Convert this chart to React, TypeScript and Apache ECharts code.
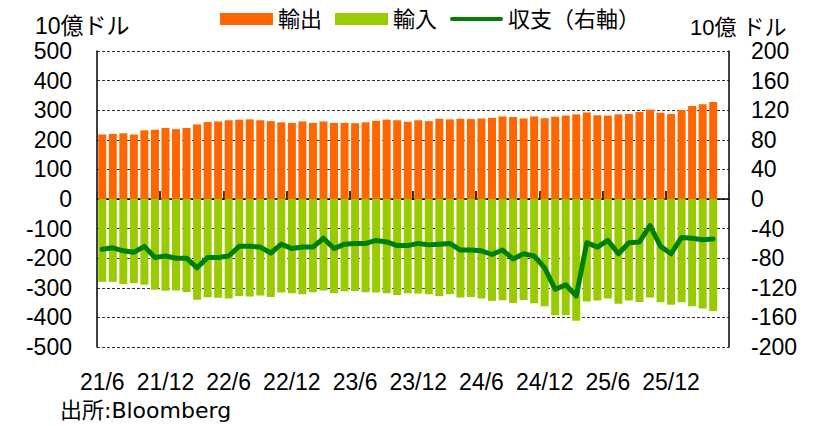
import React, { useEffect, useRef } from "react";
import * as echarts from "echarts";

const months: string[] = [
  "21/6", "21/7", "21/8", "21/9", "21/10", "21/11", "21/12",
  "22/1", "22/2", "22/3", "22/4", "22/5", "22/6", "22/7", "22/8", "22/9", "22/10", "22/11", "22/12",
  "23/1", "23/2", "23/3", "23/4", "23/5", "23/6", "23/7", "23/8", "23/9", "23/10", "23/11", "23/12",
  "24/1", "24/2", "24/3", "24/4", "24/5", "24/6", "24/7", "24/8", "24/9", "24/10", "24/11", "24/12",
  "25/1", "25/2", "25/3", "25/4", "25/5", "25/6", "25/7", "25/8", "25/9", "25/10", "25/11", "25/12",
  "26/1", "26/2", "26/3", "26/4", "26/5",
];

// 輸出 (10億ドル, left axis)
const exportsData: number[] = [
  218, 220, 222, 218, 232, 234, 240, 236, 240, 252,
  260, 262, 266, 268, 269, 266, 263, 259, 257, 262,
  257, 262, 257, 257, 256, 259, 264, 268, 266, 261,
  266, 263, 271, 269, 271, 270, 272, 274, 279, 277,
  272, 279, 273, 278, 282, 286, 292, 283, 282, 286,
  287, 294, 302, 291, 287, 301, 314, 320, 328,
];

// 輸入 (10億ドル, left axis, negative)
const importsData: number[] = [
  -280, -280, -287, -284, -290, -307, -310, -309, -314, -340,
  -332, -334, -336, -328, -329, -326, -331, -316, -318, -322,
  -315, -309, -318, -312, -311, -315, -316, -318, -324, -318,
  -319, -322, -328, -322, -333, -331, -336, -344, -342, -351,
  -341, -352, -362, -393, -393, -411, -346, -343, -336, -354,
  -343, -348, -333, -349, -357, -349, -362, -370, -378,
];

// 収支 (10億ドル, right axis)
const balanceData: number[] = [
  -68, -66, -70, -72, -64, -79, -77, -80, -80, -93,
  -79, -79, -77, -64, -64, -65, -73, -61, -67, -65,
  -65, -53, -67, -61, -60, -60, -56, -58, -63, -63,
  -60, -62, -61, -60, -69, -69, -70, -75, -69, -81,
  -74, -77, -93, -122, -116, -131, -59, -65, -56, -74,
  -59, -58, -36, -64, -74, -52, -53, -55, -54,
];

const NUM_FONT = "'Liberation Sans', Arial, sans-serif";
const JP_FONT = "'Liberation Sans', 'Noto Sans CJK JP', sans-serif";
const SRC_FONT = "'DejaVu Sans', 'Noto Sans CJK JP', sans-serif";

export default function App() {
  const ref = useRef<HTMLDivElement>(null);

  useEffect(() => {
    if (!ref.current) return;
    const chart = echarts.init(ref.current, null, { renderer: "svg" });
    chart.setOption({
      animation: false,
      backgroundColor: "#ffffff",
      legend: {
        left: 215,
        top: 3,
        itemWidth: 53,
        itemHeight: 12,
        itemGap: 13,
        textStyle: { fontSize: 22, color: "#000", fontFamily: JP_FONT },
        data: [
          { name: "輸出", icon: "rect" },
          { name: "輸入", icon: "rect" },
          {
            name: "収支（右軸）",
            icon: "path://M2,0L54,0A2,2,0,0,1,54,4L2,4A2,2,0,0,1,2,0Z",
            itemStyle: { color: "#008000" },
          },
        ],
      },
      grid: { left: 97, right: 90, top: 51, bottom: 79 },
      xAxis: [
        {
          type: "category",
          data: months,
          boundaryGap: true,
          axisLine: {
            show: true,
            onZero: true,
            onZeroAxisIndex: 0,
            lineStyle: { color: "#000", width: 1.5 },
          },
          axisTick: {
            show: true,
            interval: 5,
            inside: true,
            length: 8,
            lineStyle: { color: "#333", width: 2 },
          },
          axisLabel: { show: false },
          splitLine: { show: false },
        },
        {
          type: "category",
          data: months,
          position: "bottom",
          boundaryGap: true,
          axisLine: { show: false, onZero: false },
          axisTick: { show: false },
          axisLabel: {
            interval: 5,
            margin: 23,
            fontSize: 23,
            color: "#000",
            fontFamily: NUM_FONT,
          },
          splitLine: { show: false },
        },
      ],
      yAxis: [
        {
          type: "value",
          min: -500,
          max: 500,
          interval: 100,
          position: "left",
          axisLine: { show: true, lineStyle: { color: "#000", width: 1.5 } },
          axisTick: { show: false },
          axisLabel: { margin: 25, fontSize: 23, color: "#000", fontFamily: NUM_FONT },
          splitLine: {
            show: true,
            lineStyle: { color: "#333", width: 1, type: [3, 2] },
          },
        },
        {
          type: "value",
          min: -200,
          max: 200,
          interval: 40,
          position: "right",
          axisLine: { show: true, lineStyle: { color: "#000", width: 1.5 } },
          axisTick: { show: false },
          axisLabel: { margin: 22, fontSize: 23, color: "#000", fontFamily: NUM_FONT },
          splitLine: { show: false },
        },
      ],
      series: [
        {
          name: "輸出",
          type: "bar",
          xAxisIndex: 0,
          yAxisIndex: 0,
          data: exportsData,
          barWidth: 8,
          barGap: "-100%",
          itemStyle: { color: "#FF6600" },
        },
        {
          name: "輸入",
          type: "bar",
          xAxisIndex: 0,
          yAxisIndex: 0,
          data: importsData,
          barWidth: 8,
          barGap: "-100%",
          itemStyle: { color: "#99CC00" },
        },
        {
          name: "収支（右軸）",
          type: "line",
          xAxisIndex: 0,
          yAxisIndex: 1,
          data: balanceData,
          symbol: "none",
          showSymbol: false,
          lineStyle: { color: "#008000", width: 5, join: "round", cap: "round" },
          itemStyle: { color: "#008000" },
          z: 5,
        },
      ],
      graphic: [
        {
          type: "text",
          x: 35,
          y: 26,
          style: {
            text: "10億ドル",
            fontSize: 23,
            fontFamily: JP_FONT,
            fill: "#000",
            verticalAlign: "middle",
            align: "left",
          },
        },
        {
          type: "text",
          x: 690,
          y: 27,
          style: {
            text: "10億 ドル",
            fontSize: 22,
            fontFamily: JP_FONT,
            fill: "#000",
            verticalAlign: "middle",
            align: "left",
          },
        },
        {
          type: "text",
          x: 60,
          y: 410,
          style: {
            text: "出所:Bloomberg",
            fontSize: 22,
            fontFamily: SRC_FONT,
            fill: "#000",
            verticalAlign: "middle",
            align: "left",
          },
        },
      ],
    });
    return () => chart.dispose();
  }, []);

  return (
    <div
      ref={ref}
      style={{ position: "absolute", left: 0, top: 0, width: 819, height: 426 }}
    />
  );
}
